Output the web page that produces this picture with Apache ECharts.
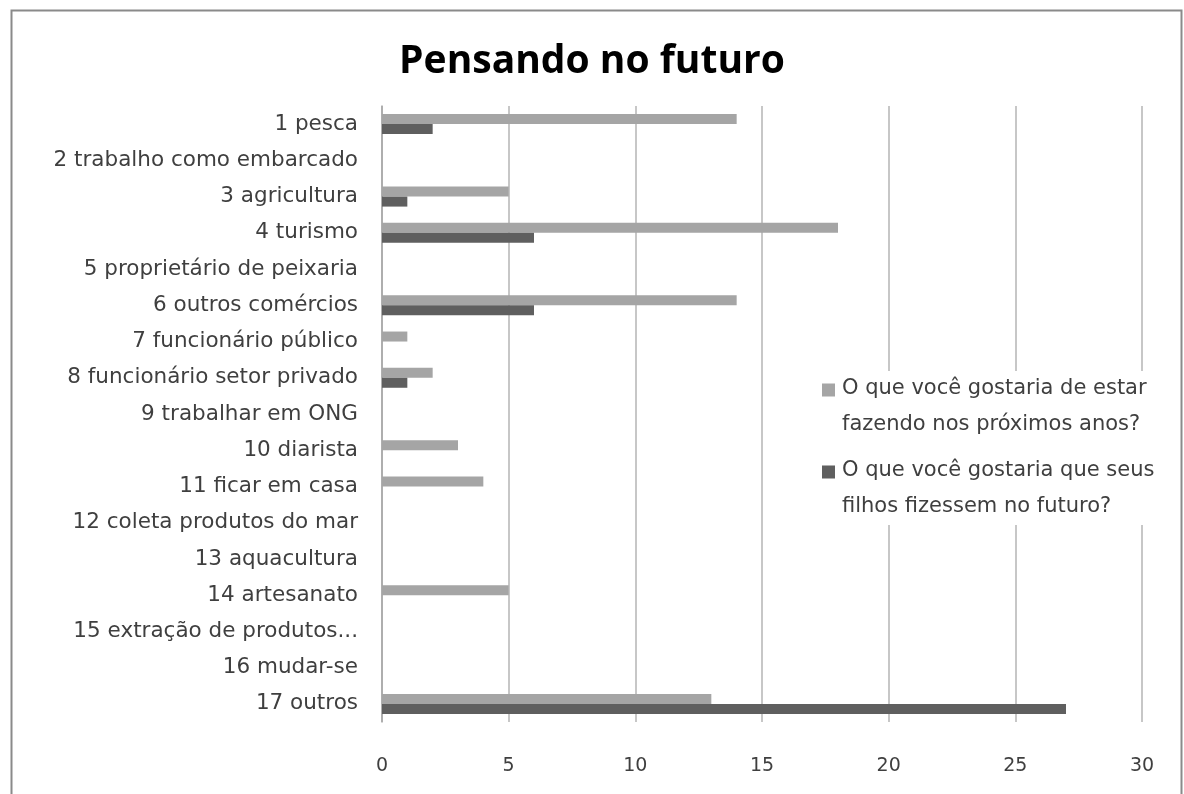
<!DOCTYPE html>
<html>
<head>
<meta charset="utf-8">
<title>Pensando no futuro</title>
<script src="https://cdn.jsdelivr.net/npm/echarts@6/dist/echarts.min.js"></script>
<style>
  html, body { margin: 0; padding: 0; background: #ffffff; }
  #chart { width: 1184px; height: 794px; }
</style>
</head>
<body>
<div id="chart"></div>
<script>
// Occupations, top to bottom
const categories = [
  '1 pesca',
  '2 trabalho como embarcado',
  '3 agricultura',
  '4 turismo',
  '5 proprietário de peixaria',
  '6 outros comércios',
  '7 funcionário público',
  '8 funcionário setor privado',
  '9 trabalhar em ONG',
  '10 diarista',
  '11 ficar em casa',
  '12 coleta produtos do mar',
  '13 aquacultura',
  '14 artesanato',
  '15 extração de produtos...',
  '16 mudar-se',
  '17 outros'
];

const seriesNames = [
  'O que você gostaria de estar\nfazendo nos próximos anos?',
  'O que você gostaria que seus\nfilhos fizessem no futuro?'
];

// Answers about oneself
const ownFuture = [14, 0, 5, 18, 0, 14, 1, 2, 0, 3, 4, 0, 0, 5, 0, 0, 13];
// Answers about the children
const childrenFuture = [2, 0, 1, 6, 0, 6, 0, 1, 0, 0, 0, 0, 0, 0, 0, 0, 27];

const xTicks = { min: 0, max: 30, interval: 5 };

const FONT = '"DejaVu Sans", sans-serif';
const TITLE_FONT = '"Open Sans", Lato, sans-serif';
const TEXT = '#3f3f3f';

// Legend marker: a square in the upper part of a taller box so it sits beside the first text line
const legendIcon = 'path://M0,0H10V10H0Z M0,36.2H0.001V36.2Z';

const chart = echarts.init(document.getElementById('chart'), null, { renderer: 'canvas' });

chart.setOption({
  backgroundColor: '#ffffff',
  animation: false,
  title: {
    text: 'Pensando no futuro',
    left: 'center',
    top: 37,
    textStyle: {
      fontFamily: TITLE_FONT,
      fontSize: 39,
      fontWeight: 'bold',
      color: '#000000'
    }
  },
  graphic: [{
    type: 'rect',
    left: 9,
    top: 8,
    shape: { width: 1170, height: 800 },
    style: { fill: 'none', stroke: '#8a8a8a', lineWidth: 2 },
    silent: true,
    z: 100
  }],
  legend: {
    orient: 'vertical',
    left: 822,
    top: 371,
    itemWidth: 13,
    itemHeight: 49,
    itemGap: 10,
    icon: legendIcon,
    backgroundColor: '#ffffff',
    padding: [0, 0, 0, 0],
    z: 10,
    textStyle: {
      fontFamily: FONT,
      fontSize: 21,
      lineHeight: 36,
      color: TEXT,
      padding: [0, 0, 0, 2]
    },
    data: seriesNames
  },
  grid: {
    left: 382,
    right: 42,
    top: 106,
    bottom: 72,
    containLabel: false
  },
  xAxis: {
    type: 'value',
    min: xTicks.min,
    max: xTicks.max,
    interval: xTicks.interval,
    axisLine: { show: false },
    axisTick: { show: false },
    axisLabel: {
      margin: 35,
      fontFamily: FONT,
      fontSize: 19,
      color: TEXT
    },
    splitLine: {
      show: true,
      lineStyle: { color: '#b5b5b5', width: 1.5 }
    }
  },
  yAxis: {
    type: 'category',
    data: categories,
    inverse: true,
    axisLine: { show: true, lineStyle: { color: '#a6a6a6', width: 1.5 } },
    axisTick: { show: false },
    axisLabel: {
      margin: 24,
      fontFamily: FONT,
      fontSize: 21.5,
      color: TEXT
    },
    splitLine: { show: false }
  },
  series: [
    {
      name: seriesNames[0],
      type: 'bar',
      data: ownFuture,
      barWidth: 10,
      barGap: '0%',
      itemStyle: { color: '#a5a5a5' }
    },
    {
      name: seriesNames[1],
      type: 'bar',
      data: childrenFuture,
      barWidth: 10,
      barGap: '0%',
      itemStyle: { color: '#5f5f5f' }
    }
  ]
});
</script>
</body>
</html>
